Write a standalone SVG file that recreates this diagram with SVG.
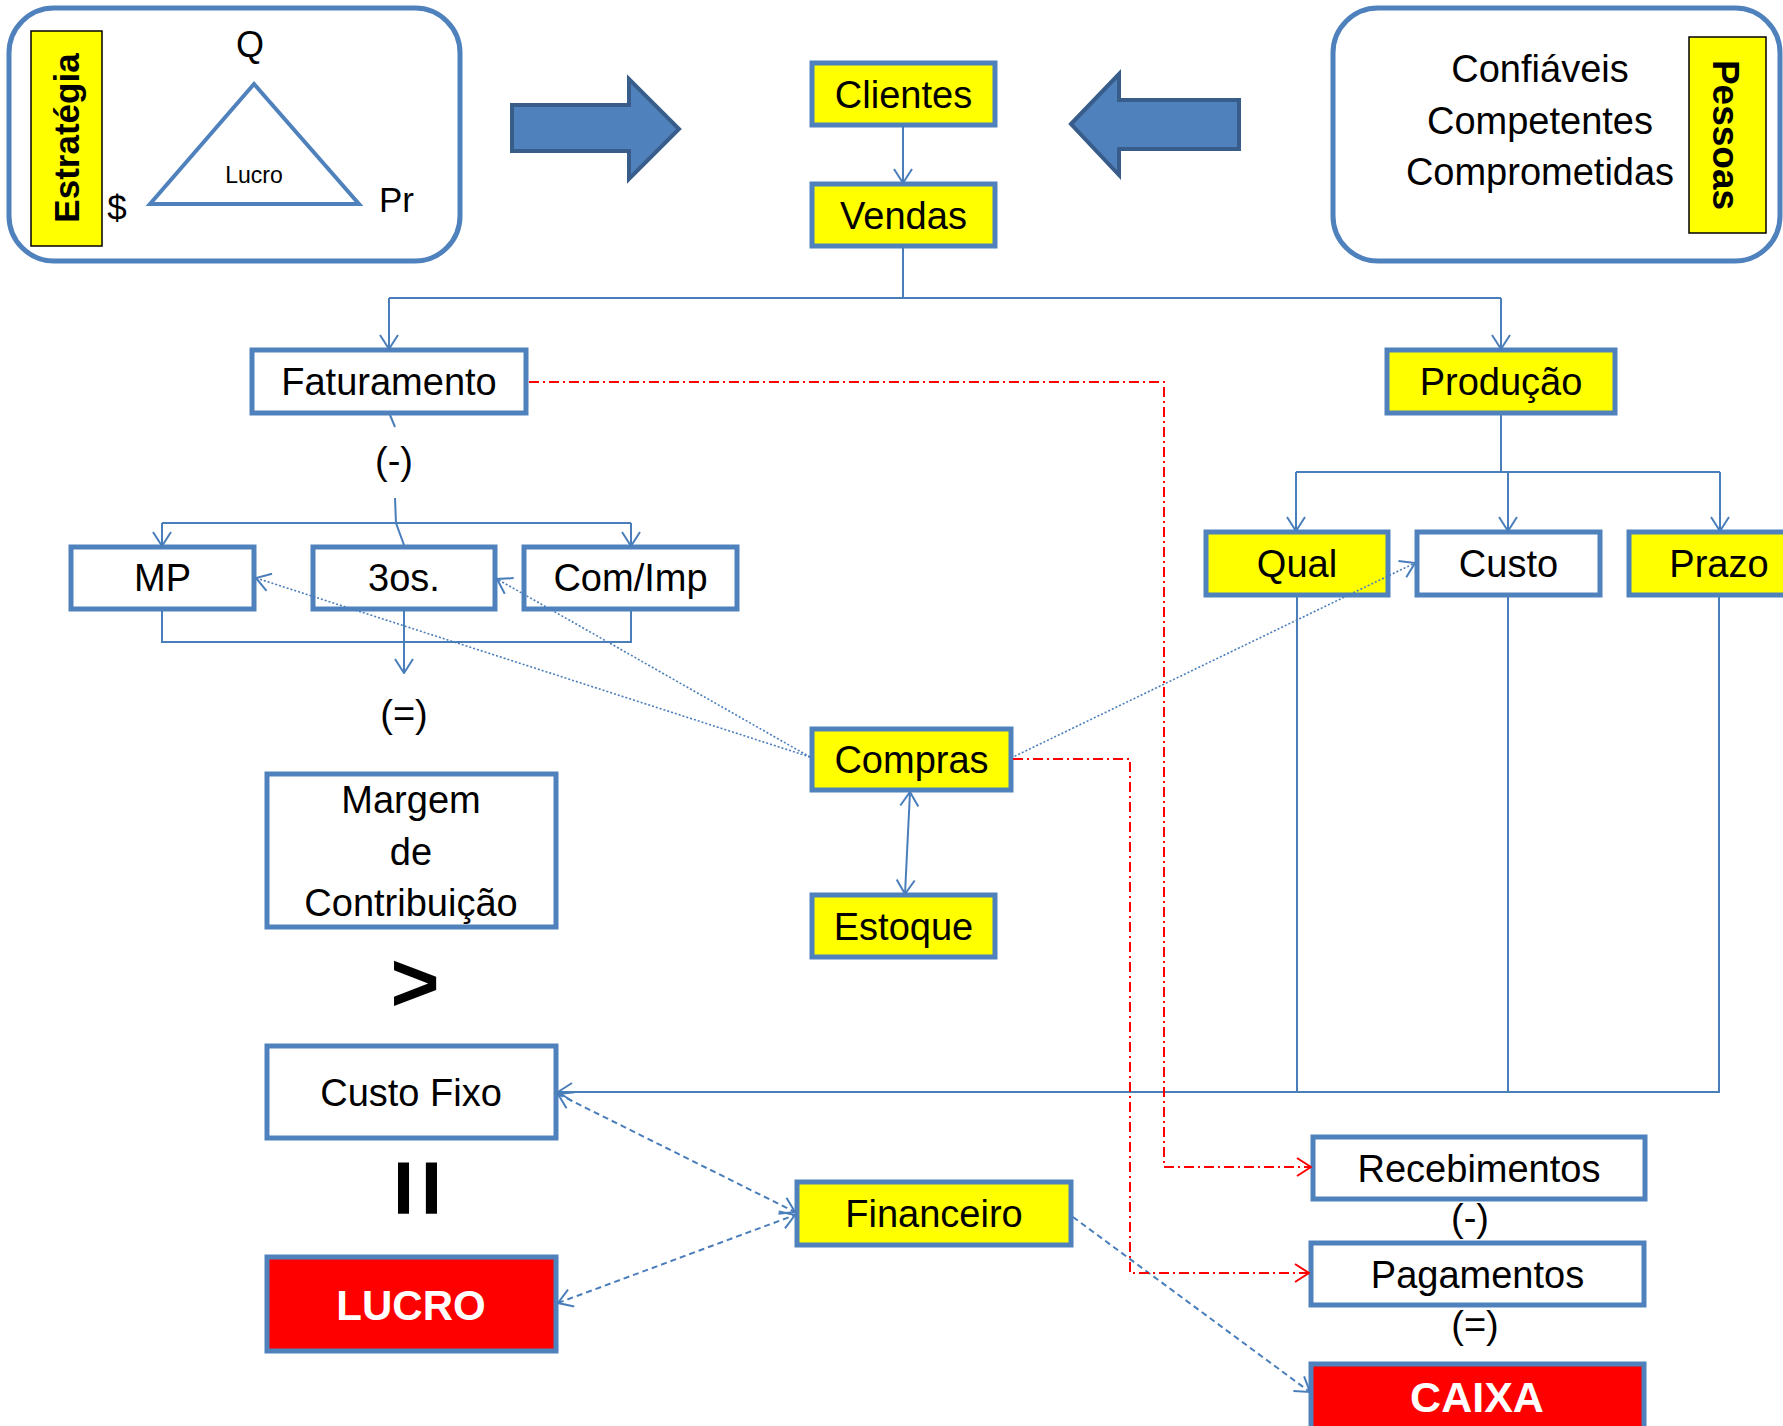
<svg xmlns="http://www.w3.org/2000/svg" width="1783" height="1426" viewBox="0 0 1783 1426">
<style>
text{font-family:"Liberation Sans",Arial,sans-serif;fill:#000;}
.lbl{font-size:38px;text-anchor:middle;}
.big{font-size:42px;font-weight:bold;fill:#fff;text-anchor:middle;}
.box{stroke:#4F81BD;stroke-width:5;}
.y{fill:#FFFF00;}
.w{fill:#FFFFFF;}
.r{fill:#FF0000;}
.panel{fill:#fff;stroke:#4F81BD;stroke-width:5;}
.tag{fill:#FFFF00;stroke:#000;stroke-width:1.5;}
.c{fill:none;stroke:#4A7EBB;stroke-width:2;}
.dot{fill:none;stroke:#4A7EBB;stroke-width:1.6;stroke-dasharray:2 2;}
.dash{fill:none;stroke:#4A7EBB;stroke-width:2;stroke-dasharray:6 4;}
.red{fill:none;stroke:#FF0000;stroke-width:2;stroke-dasharray:10 4 2 4;}
.blk{fill:#4F81BD;stroke:#385D8A;stroke-width:4;}
</style>
<defs>
<marker id="a" viewBox="0 0 16 20" refX="15" refY="10" markerWidth="16" markerHeight="20" markerUnits="userSpaceOnUse" orient="auto-start-reverse">
<path d="M1,1 L15,10 L1,19" fill="none" stroke="#4A7EBB" stroke-width="2"/>
</marker>
<marker id="ar" viewBox="0 0 16 20" refX="15" refY="10" markerWidth="16" markerHeight="20" markerUnits="userSpaceOnUse" orient="auto">
<path d="M1,1 L15,10 L1,19" fill="none" stroke="#FF0000" stroke-width="2"/>
</marker>
</defs>

<g id="estrategia">
<rect class="panel" x="9" y="8" width="451" height="253" rx="45"/>
<rect class="tag" x="31" y="31" width="71" height="215"/>
<text x="67" y="138" transform="rotate(-90 67 138)" dy="0.35em" style="font-size:35px;font-weight:bold;text-anchor:middle">Estratégia</text>
<text x="250" y="57" style="font-size:36px;text-anchor:middle">Q</text>
<polygon points="254,84 150,204 359,204" fill="none" stroke="#4F81BD" stroke-width="4"/>
<text x="254" y="183" style="font-size:23px;text-anchor:middle">Lucro</text>
<text x="117" y="220" style="font-size:35px;text-anchor:middle">$</text>
<text x="379" y="212" style="font-size:35px">Pr</text>
</g>

<g id="seta-direita"><polygon class="blk" points="512,105 629,105 629,79 679,129 629,179 629,151 512,151"/></g>
<g id="seta-esquerda"><polygon class="blk" points="1071,124 1119,74 1119,100 1239,100 1239,149 1119,149 1119,175"/></g>

<g id="pessoas">
<rect class="panel" x="1333" y="8" width="447" height="253" rx="45"/>
<rect class="tag" x="1689" y="37" width="77" height="196"/>
<text x="1726" y="135" transform="rotate(90 1726 135)" dy="0.35em" style="font-size:37px;font-weight:bold;text-anchor:middle">Pessoas</text>
<text class="lbl" x="1540" y="82">Confiáveis</text>
<text class="lbl" x="1540" y="134">Competentes</text>
<text class="lbl" x="1540" y="185">Comprometidas</text>
</g>

<g id="clientes"><rect class="box y" x="812" y="63" width="183" height="62"/><text class="lbl" x="903.5" y="108">Clientes</text></g>
<g id="vendas"><rect class="box y" x="812" y="184" width="183" height="62"/><text class="lbl" x="903.5" y="229">Vendas</text></g>
<g id="faturamento"><rect class="box w" x="252" y="350" width="274" height="63"/><text class="lbl" x="389" y="395">Faturamento</text></g>
<g id="producao"><rect class="box y" x="1387" y="350" width="228" height="63"/><text class="lbl" x="1501" y="395">Produção</text></g>
<g id="sinal-menos-1"><text class="lbl" x="394" y="474">(-)</text></g>
<g id="mp"><rect class="box w" x="71" y="547" width="183" height="62"/><text class="lbl" x="162.5" y="591">MP</text></g>
<g id="terceiros"><rect class="box w" x="313" y="547" width="182" height="62"/><text class="lbl" x="404" y="591">3os.</text></g>
<g id="comimp"><rect class="box w" x="524" y="547" width="213" height="62"/><text class="lbl" x="630.5" y="591">Com/Imp</text></g>
<g id="sinal-igual-1"><text class="lbl" x="404" y="727">(=)</text></g>
<g id="qual"><rect class="box y" x="1206" y="532" width="182" height="63"/><text class="lbl" x="1297" y="577">Qual</text></g>
<g id="custo"><rect class="box w" x="1417" y="532" width="183" height="63"/><text class="lbl" x="1508.5" y="577">Custo</text></g>
<g id="prazo"><rect class="box y" x="1629" y="532" width="183" height="63"/><text class="lbl" x="1719" y="577">Prazo</text></g>
<g id="compras"><rect class="box y" x="812" y="729" width="199" height="61"/><text class="lbl" x="911.5" y="773">Compras</text></g>
<g id="estoque"><rect class="box y" x="812" y="895" width="183" height="62"/><text class="lbl" x="903.5" y="940">Estoque</text></g>
<g id="margem"><rect class="box w" x="267" y="774" width="289" height="153"/>
<text class="lbl" x="411" y="813">Margem</text><text class="lbl" x="411" y="865">de</text><text class="lbl" x="411" y="916">Contribuição</text></g>
<g id="maior"><text x="415" y="1011" style="font-size:84px;font-weight:bold;text-anchor:middle">&gt;</text></g>
<g id="custofixo"><rect class="box w" x="267" y="1046" width="289" height="92"/><text class="lbl" x="411" y="1106">Custo Fixo</text></g>
<g id="igual"><text x="383" y="1188" transform="rotate(90 383 1188)" style="font-size:102px;font-weight:bold;text-anchor:middle">=</text></g>
<g id="lucro"><rect class="box r" x="267" y="1257" width="289" height="94"/><text class="big" x="411" y="1320">LUCRO</text></g>
<g id="financeiro"><rect class="box y" x="797" y="1182" width="274" height="63"/><text class="lbl" x="934" y="1227">Financeiro</text></g>
<g id="recebimentos"><rect class="box w" x="1313" y="1137" width="332" height="62"/><text class="lbl" x="1479" y="1182">Recebimentos</text></g>
<g id="pagamentos"><rect class="box w" x="1311" y="1243" width="333" height="62"/><text class="lbl" x="1477.5" y="1288">Pagamentos</text></g>
<g id="caixa"><rect class="box r" x="1311" y="1364" width="333" height="70"/><text class="big" x="1477" y="1412" style="font-size:43px">CAIXA</text></g>
<g id="sinal-menos-2"><text class="lbl" x="1470" y="1231">(-)</text></g>
<g id="sinal-igual-2"><text class="lbl" x="1475" y="1338">(=)</text></g>

<g id="connectors">
<path class="c" d="M903,125 V183" marker-end="url(#a)"/>
<path class="c" d="M903,246 V298 M389,298 H1501"/>
<path class="c" d="M389,298 V349" marker-end="url(#a)"/>
<path class="c" d="M1501,298 V349" marker-end="url(#a)"/>
<path class="c" d="M390,415 L395,427"/>
<path class="c" d="M395,498 L396,523 L404,545"/>
<path class="c" d="M162,523 H631"/>
<path class="c" d="M162,523 V546" marker-end="url(#a)"/>
<path class="c" d="M631,523 V546" marker-end="url(#a)"/>
<path class="c" d="M162,611 V642 H631 V611"/>
<path class="c" d="M404,611 V673" marker-end="url(#a)"/>
<path class="c" d="M1501,415 V472 M1296,472 H1720"/>
<path class="c" d="M1296,472 V531" marker-end="url(#a)"/>
<path class="c" d="M1508,472 V531" marker-end="url(#a)"/>
<path class="c" d="M1720,472 V531" marker-end="url(#a)"/>
<path class="c" d="M1297,597 V1092 M1508,597 V1092 M1719,597 V1092 H558" marker-end="url(#a)"/>
<path class="dot" d="M810,757 L256,578" marker-end="url(#a)"/>
<path class="dot" d="M810,757 L497,579" marker-end="url(#a)"/>
<path class="dot" d="M1011,758 L1415,563" marker-end="url(#a)"/>
<path class="c" d="M910,792 L905,894" marker-start="url(#a)" marker-end="url(#a)"/>
<path class="dash" d="M558,1094 L795,1212" marker-start="url(#a)" marker-end="url(#a)"/>
<path class="dash" d="M558,1303 L795,1215" marker-start="url(#a)" marker-end="url(#a)"/>
<path class="dash" d="M1073,1217 L1310,1392" marker-end="url(#a)"/>
<path class="red" d="M529,382 H1164 V1167 H1311" marker-end="url(#ar)"/>
<path class="red" d="M1013,759 H1130 V1273 H1309" marker-end="url(#ar)"/>
</g>
</svg>
